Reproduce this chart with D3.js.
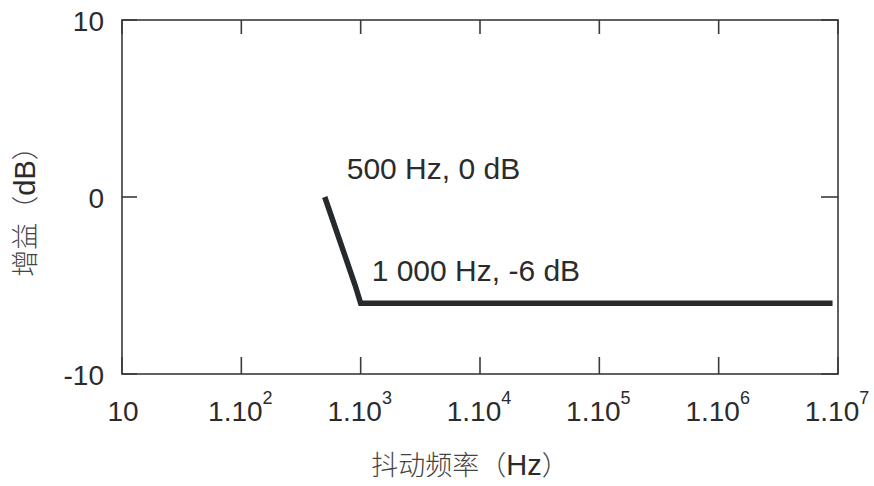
<!DOCTYPE html>
<html><head><meta charset="utf-8">
<script src="https://cdn.jsdelivr.net/npm/d3@7"></script>
<style>
body{margin:0;background:#fff;}
text{font-family:"Liberation Sans",Arial,Helvetica,sans-serif;fill:#2b2b2b;}
</style></head>
<body><svg id="c" width="874" height="486"></svg>
<script>
// data
const freq = [500, 900, 1000, 9000000];
const gain = [0, -5, -6, -6];
const xTicks = [10, 1e2, 1e3, 1e4, 1e5, 1e6, 1e7];
const xTickBase = ["10", "1.10", "1.10", "1.10", "1.10", "1.10", "1.10"];
const xTickExp = ["", "2", "3", "4", "5", "6", "7"];
const yTicks = [10, 0, -10];
const annoText = ["500 Hz, 0 dB", "1 000 Hz, -6 dB"];
const annoFreq = [500, 1000];
const annoGain = [0, -6];
const xTitleCJK = "抖动频率（";
const xTitleUnit = "Hz";
const xTitleEnd = "）";
const yTitleCJK = "增益（";
const yTitleUnit = "dB";
const yTitleEnd = "）";

const svg = d3.select("#c");
const L = 122, T = 20, R = 838, B = 374;
const x = d3.scaleLog().domain([10, 1e7]).range([L, R]);
const y = d3.scaleLinear().domain([-10, 10]).range([B, T]);
const axisCol = "#3a3a3a";
const cjk = "'Noto Sans CJK SC','Liberation Sans',sans-serif";

// frame
svg.append("rect").attr("x", L).attr("y", T).attr("width", R - L).attr("height", B - T)
  .attr("fill", "none").attr("stroke", axisCol).attr("stroke-width", 1.6);

// x ticks (inward, top and bottom)
const gx = svg.append("g");
xTicks.forEach(v => {
  gx.append("line").attr("x1", x(v)).attr("x2", x(v)).attr("y1", B).attr("y2", B - 17)
    .attr("stroke", axisCol).attr("stroke-width", 1.6);
  gx.append("line").attr("x1", x(v)).attr("x2", x(v)).attr("y1", T).attr("y2", T + 14)
    .attr("stroke", axisCol).attr("stroke-width", 1.6);
});
// y ticks
yTicks.forEach(v => {
  svg.append("line").attr("x1", L).attr("x2", L + 15).attr("y1", y(v)).attr("y2", y(v))
    .attr("stroke", axisCol).attr("stroke-width", 1.6);
  svg.append("line").attr("x1", R).attr("x2", R - 17).attr("y1", y(v)).attr("y2", y(v))
    .attr("stroke", axisCol).attr("stroke-width", 1.6);
  svg.append("text").attr("x", 104).attr("y", y(v) + 10.5).attr("text-anchor", "end")
    .attr("font-size", 28).text(v);
});

// x tick labels
xTicks.forEach((v, i) => {
  const t = svg.append("text").attr("x", x(v) + (xTickExp[i] ? -1 : 1)).attr("y", 421)
    .attr("text-anchor", "middle").attr("font-size", 28);
  t.append("tspan").text(xTickBase[i]);
  if (xTickExp[i]) t.append("tspan").attr("dy", -17).attr("font-size", 18).text(xTickExp[i]);
});

// line
const line = d3.line().x((d, i) => x(freq[i])).y((d, i) => y(gain[i]));
svg.append("path").datum(freq).attr("d", line).attr("fill", "none")
  .attr("stroke", "#272a2c").attr("stroke-width", 5.5).attr("stroke-linejoin", "miter");

// annotations
const annoDx = [22, 11], annoDy = [-18, -22];
annoText.forEach((s, i) => {
  svg.append("text").attr("x", x(annoFreq[i]) + annoDx[i]).attr("y", y(annoGain[i]) + annoDy[i])
    .attr("font-size", 30).text(s);
});

// titles
const xt = svg.append("text").attr("x", 470).attr("y", 475).attr("text-anchor", "middle");
xt.append("tspan").style("font-family", cjk).attr("font-size", 27).attr("font-weight", 300)
  .attr("fill", "#444").text(xTitleCJK);
xt.append("tspan").attr("font-size", 29).text(xTitleUnit);
xt.append("tspan").style("font-family", cjk).attr("font-size", 27).attr("font-weight", 300)
  .attr("fill", "#444").text(xTitleEnd);

const yt = svg.append("text").attr("transform", "translate(35,205) rotate(-90)").attr("text-anchor", "middle");
yt.append("tspan").style("font-family", cjk).attr("font-size", 27).attr("font-weight", 300)
  .attr("fill", "#444").text(yTitleCJK);
yt.append("tspan").attr("font-size", 29).text(yTitleUnit);
yt.append("tspan").style("font-family", cjk).attr("font-size", 27).attr("font-weight", 300)
  .attr("fill", "#444").text(yTitleEnd);
</script></body></html>
